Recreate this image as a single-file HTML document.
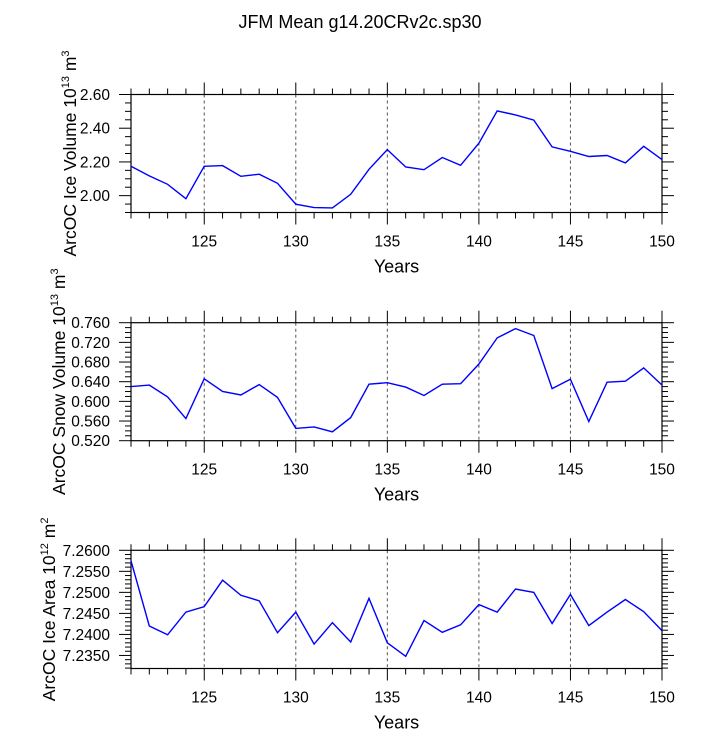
<!DOCTYPE html>
<html><head><meta charset="utf-8"><style>
body{margin:0;background:#fff;}
svg text{font-family:"Liberation Sans",sans-serif;fill:#000;}
</style></head><body>
<svg id="c" width="718" height="729" xmlns="http://www.w3.org/2000/svg">
<text x="360" y="28" text-anchor="middle" font-size="18">JFM Mean g14.20CRv2c.sp30</text>
</svg>
<script>
const years=[121,122,123,124,125,126,127,128,129,130,131,132,133,134,135,136,137,138,139,140,141,142,143,144,145,146,147,148,149,150];
const iceVolume=[2.174,2.117,2.067,1.982,2.174,2.178,2.115,2.127,2.073,1.949,1.929,1.927,2.008,2.156,2.273,2.170,2.154,2.226,2.180,2.311,2.503,2.479,2.448,2.289,2.263,2.232,2.238,2.194,2.293,2.214];
const snowVolume=[0.630,0.633,0.609,0.565,0.646,0.620,0.613,0.634,0.608,0.545,0.548,0.538,0.567,0.635,0.638,0.629,0.612,0.635,0.636,0.676,0.729,0.748,0.734,0.626,0.645,0.559,0.639,0.641,0.668,0.633];
const iceArea=[7.2575,7.2420,7.2399,7.2453,7.2466,7.2529,7.2493,7.2480,7.2404,7.2453,7.2377,7.2428,7.2382,7.2486,7.2380,7.2348,7.2433,7.2405,7.2423,7.2471,7.2453,7.2508,7.2500,7.2426,7.2495,7.2421,7.2453,7.2483,7.2454,7.2409];
const xTicks=[125,130,135,140,145,150];
const iceTicks=["2.00","2.20","2.40","2.60"];
const snowTicks=["0.520","0.560","0.600","0.640","0.680","0.720","0.760"];
const areaTicks=["7.2350","7.2400","7.2450","7.2500","7.2550","7.2600"];
const NS="http://www.w3.org/2000/svg";
const svg=document.getElementById('c');
function mk(tag,attrs,parent){const e=document.createElementNS(NS,tag);for(const k in attrs)e.setAttribute(k,attrs[k]);(parent||svg).appendChild(e);return e;}
const X0=131,X1=662,XMIN=121,XMAX=150;
const xs=v=>X0+(v-XMIN)/(XMAX-XMIN)*(X1-X0);
function panel(name,top,bot,ymin,ymax,minorStep,ticks,data,labelMain,sup,unit,sup2,titleX){
  const g=mk('g',{});
  
  
  const ys=v=>bot-(v-ymin)/(ymax-ymin)*(bot-top);
  xTicks.forEach(t=>{if(t<XMAX){const l=mk('line',{x1:xs(t),x2:xs(t),y1:top,y2:bot,stroke:'#555','stroke-width':1,'stroke-dasharray':'3,3'},g);
    
    }});
  for(let y=XMIN;y<=XMAX;y++){const maj=y%5==0;const len=maj?12:6;
    mk('line',{x1:xs(y),x2:xs(y),y1:bot,y2:bot+len,stroke:'#000','stroke-width':1},g);
    mk('line',{x1:xs(y),x2:xs(y),y1:top,y2:top-len,stroke:'#000','stroke-width':1},g);}
  xTicks.forEach(t=>{const tx=mk('text',{x:xs(t),y:bot+34,'text-anchor':'middle','font-size':15.5},g);tx.textContent=t;
    
    });
  const n=Math.round((ymax-ymin)/minorStep);
  for(let i=0;i<=n;i++){const v=ymax-i*minorStep;if(v<ymin-1e-9)break;
    const maj=ticks.some(t=>Math.abs(+t-v)<minorStep/10);const len=maj?12:6;
    mk('line',{x1:X0-len,x2:X0,y1:ys(v),y2:ys(v),stroke:'#000','stroke-width':1},g);
    mk('line',{x1:X1,x2:X1+len,y1:ys(v),y2:ys(v),stroke:'#000','stroke-width':1},g);}
  ticks.forEach(t=>{const tx=mk('text',{x:X0-21,y:ys(+t)+5.5,'text-anchor':'end','font-size':15.5},g);tx.textContent=t;
    
    });
  mk('rect',{x:X0,y:top,width:X1-X0,height:bot-top,fill:'none',stroke:'#000','stroke-width':1.2},g);
  const pts=data.map((v,i)=>xs(years[i]).toFixed(1)+','+ys(v).toFixed(1)).join(' ');
  const pl=mk('polyline',{points:pts,fill:'none',stroke:'#0000ff','stroke-width':1.4},g);
  
  
  const xt=mk('text',{x:(X0+X1)/2,y:bot+60,'text-anchor':'middle','font-size':18},g);xt.textContent='Years';
  
  
  const cy=(top+bot)/2;
  const yt=mk('text',{x:0,y:0,'text-anchor':'middle','font-size':17.5,transform:`translate(${titleX},${cy}) rotate(-90)`},g);
  
  
  yt.innerHTML=labelMain+'<tspan font-size="11" dy="-7">'+sup+'</tspan><tspan dy="7"> '+unit+'</tspan><tspan font-size="11" dy="-7">'+sup2+'</tspan>';
}
panel('ice-volume',94.5,212.5,1.90,2.60,0.05,iceTicks,iceVolume,'ArcOC Ice Volume 10','13','m','3',76);
panel('snow-volume',322.7,440.7,0.520,0.760,0.01,snowTicks,snowVolume,'ArcOC Snow Volume 10','13','m','3',65);
panel('ice-area',550.3,668.5,7.2319,7.2600,0.001,areaTicks,iceArea,'ArcOC Ice Area 10','12','m','2',55);
</script>
</body></html>
